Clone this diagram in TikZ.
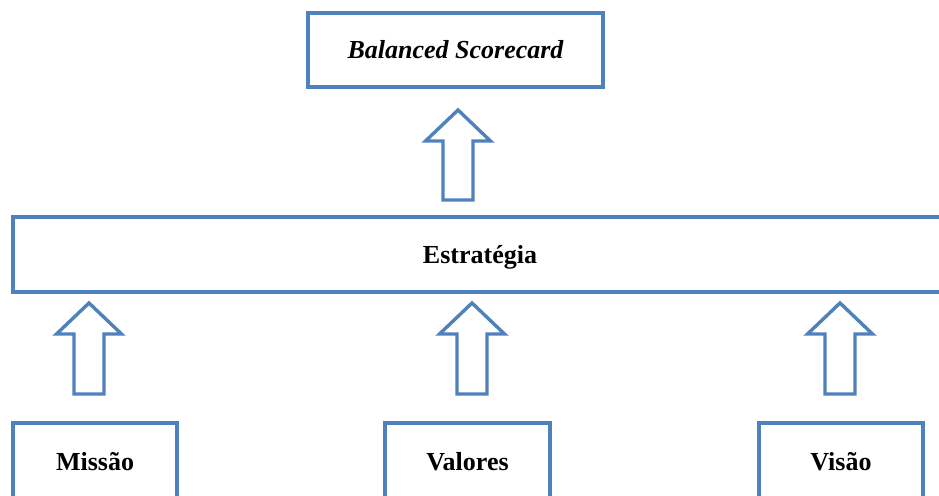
\documentclass[tikz,border=0pt]{standalone}
\usepackage{fontspec}
\setmainfont{Liberation Serif}
\begin{document}
\definecolor{frame}{HTML}{4F81BD}
\begin{tikzpicture}[x=1pt,y=-1pt,
  box/.style={draw=frame,line width=3.4pt,fill=white,inner sep=0pt,
              font=\fontsize{26}{30}\selectfont\bfseries},
  boxlabel/.style={font=\fontsize{26}{30}\selectfont\bfseries,inner sep=0pt},
  uparrow/.style={draw=frame,line width=3.4pt,fill=white,line join=miter}]
\useasboundingbox (0,0) rectangle (939,495);
\clip (0,0) rectangle (939,495);
% boxes
\node[box,minimum width=295pt,minimum height=74pt,font=\fontsize{26}{30}\selectfont\bfseries\itshape]
  (bsc) at (455.5,50) {Balanced Scorecard};
\node[box,minimum width=934pt,minimum height=75pt,
  label={[boxlabel,yshift=-3pt]center:Estratégia}] (est) at (480,254.5) {};
\node[box,minimum width=164pt,minimum height=78pt] (mis) at (95,462) {Missão};
\node[box,minimum width=165pt,minimum height=78pt] (val) at (467.5,462) {Valores};
\node[box,minimum width=164pt,minimum height=78pt] (vis) at (841,462) {Visão};
% block arrow: centre x, tip y, bottom y
\newcommand{\blockarrow}[3]{%
  \draw[uparrow] (#1,#2) -- (#1+32.5,#2+31) -- (#1+15,#2+31) -- (#1+15,#3)
    -- (#1-15,#3) -- (#1-15,#2+31) -- (#1-32.5,#2+31) -- cycle;}
\blockarrow{458}{110}{200}
\blockarrow{89}{303}{394}
\blockarrow{472}{303}{394}
\blockarrow{840}{303}{394}
\end{tikzpicture}
\end{document}
